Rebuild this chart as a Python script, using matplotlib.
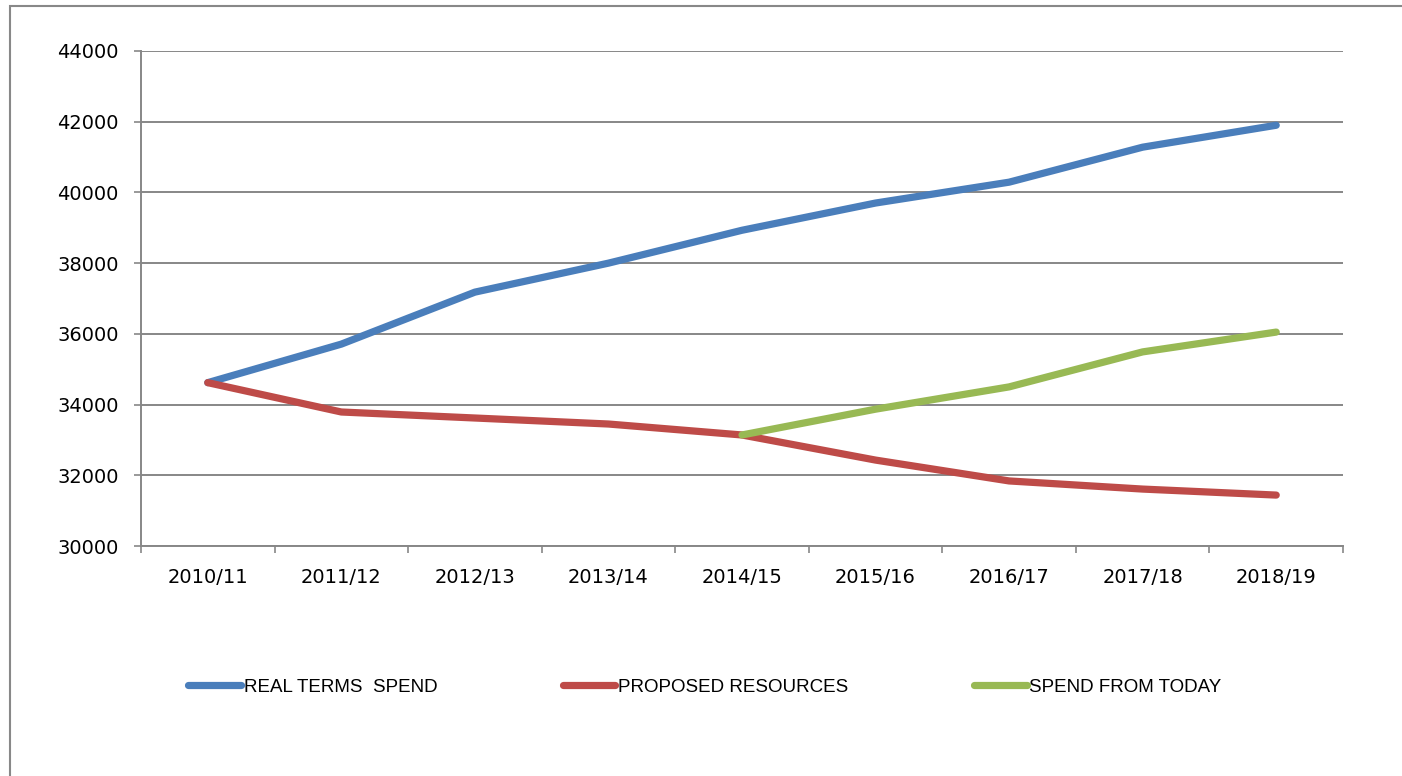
import matplotlib
matplotlib.use("Agg")
import matplotlib.pyplot as plt
from matplotlib.lines import Line2D
from matplotlib.patches import Rectangle
import numpy as np

categories = ["2010/11", "2011/12", "2012/13", "2013/14", "2014/15",
              "2015/16", "2016/17", "2017/18", "2018/19"]
real_terms_spend = [34620, 35710, 37180, 38000, 38930, 39700, 40290, 41280, 41900]
proposed_resources = [34620, 33790, 33620, 33450, 33140, 32430, 31840, 31610, 31440]
spend_from_today = [None, None, None, None, 33140, 33870, 34500, 35490, 36050]
series_names = ["REAL TERMS  SPEND", "PROPOSED RESOURCES", "SPEND FROM TODAY"]
colors = ["#4a7ebb", "#be4b48", "#98b954"]
yticks = [30000, 32000, 34000, 36000, 38000, 40000, 42000, 44000]

fig = plt.figure(figsize=(14.02, 7.76), dpi=100)
ax = fig.add_axes([141/1402, 1-546/776, (1343-141)/1402, (546-51)/776])

x = np.arange(len(categories))
lw = 5.2
ax.plot(x, real_terms_spend, color=colors[0], lw=lw, solid_capstyle="round", solid_joinstyle="round", zorder=3)
ax.plot(x, proposed_resources, color=colors[1], lw=lw, solid_capstyle="round", solid_joinstyle="round", zorder=3)
sx = [i for i, v in enumerate(spend_from_today) if v is not None]
sy = [v for v in spend_from_today if v is not None]
ax.plot(sx, sy, color=colors[2], lw=lw, solid_capstyle="round", solid_joinstyle="round", zorder=4)

ax.set_xlim(-0.5, len(categories) - 0.5)
ax.set_ylim(30000, 44000)
ax.set_yticks(yticks)
ax.set_yticklabels([str(v) for v in yticks])
ax.set_xticks(x)
ax.set_xticklabels(categories)
ax.set_xticks(np.arange(-0.5, len(categories)), minor=True)

grid_c = "#878787"
ax.yaxis.grid(True, color=grid_c, lw=1.4, zorder=1)
ax.set_axisbelow(True)
for s in ["top", "right"]:
    ax.spines[s].set_visible(False)
for s in ["left", "bottom"]:
    ax.spines[s].set_color(grid_c)
    ax.spines[s].set_linewidth(1.4)

ax.tick_params(axis="y", length=5, width=1.2, color=grid_c, pad=11, labelsize=14, labelcolor="black")
ax.tick_params(axis="x", which="major", length=0, pad=16, labelsize=14, labelcolor="black")
ax.tick_params(axis="x", which="minor", length=5, width=1.2, color=grid_c)
for lab in ax.get_xticklabels() + ax.get_yticklabels():
    lab.set_family("DejaVu Sans")

handles = [Line2D([0], [0], color=c, lw=lw, solid_capstyle="round") for c in colors]
leg = fig.legend(handles, series_names, ncol=3, loc="center",
                 bbox_to_anchor=(705/1402, 1-687/776), frameon=False,
                 handlelength=2.8, handletextpad=0.15, columnspacing=6.7,
                 prop={"family": "Liberation Sans", "size": 13.5})

fig.patches.append(Rectangle((10/1402, -0.05), 1.1, 1-6/776 + 0.05, transform=fig.transFigure,
                             fill=False, edgecolor="#888888", lw=1.5))

fig.savefig("out.png", dpi=100)
